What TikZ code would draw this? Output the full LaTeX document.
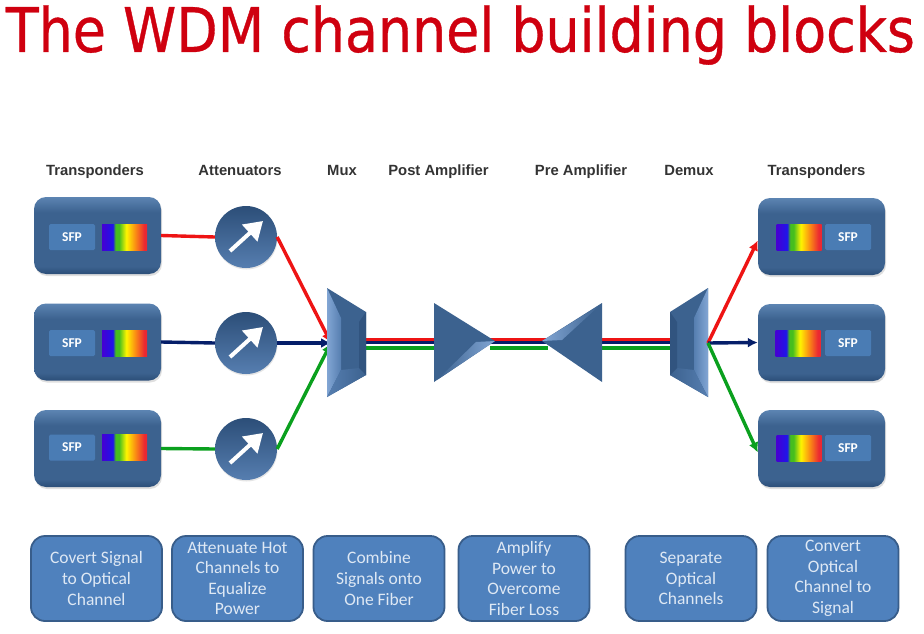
\documentclass[tikz,border=0pt]{standalone}
\usepackage{fontspec}
\setmainfont{Carlito}
\newfontfamily\titlefont[FakeBold=0.6]{DejaVu Sans Condensed}
\newfontfamily\headfont{Liberation Sans}
\usetikzlibrary{arrows.meta}
\usetikzlibrary{shadows}
\definecolor{titlered}{RGB}{207,0,15}
\definecolor{boxblue}{RGB}{60,98,143}
\definecolor{boxlight}{RGB}{92,132,178}
\definecolor{boxdark}{RGB}{44,78,120}
\definecolor{sfpblue}{RGB}{74,124,180}
\definecolor{notefill}{RGB}{79,129,189}
\definecolor{noteline}{RGB}{56,93,138}
\definecolor{notetext}{RGB}{222,232,244}
\definecolor{facetlight}{RGB}{130,166,212}
\definecolor{facetmid}{RGB}{86,126,176}
\definecolor{lightred}{RGB}{238,20,20}
\definecolor{darkblue}{RGB}{5,30,105}
\definecolor{darkgreen}{RGB}{10,160,30}
\definecolor{specviolet}{RGB}{70,0,210}
\definecolor{specblue}{RGB}{30,20,235}
\definecolor{specgreen}{RGB}{70,190,30}
\definecolor{specyellow}{RGB}{255,245,0}
\definecolor{specorange}{RGB}{250,140,20}
\definecolor{specred}{RGB}{235,40,50}
\pgfdeclarehorizontalshading{rainbow}{100bp}{
    color(0bp)=(specviolet); color(25bp)=(specviolet); color(37bp)=(specblue);
    color(40bp)=(specgreen); color(44bp)=(specgreen); color(52bp)=(specyellow); color(62bp)=(specorange);
    color(72bp)=(specred); color(100bp)=(specred)}
\pgfdeclareverticalshading{bevel}{100bp}{
    color(0bp)=(boxdark); color(25bp)=(boxdark); color(30bp)=(boxblue);
    color(65bp)=(boxblue); color(75bp)=(boxlight); color(100bp)=(boxlight)}
\tikzset{
    heading/.style={anchor=base, font=\headfont\bfseries\fontsize{14.8}{16}\selectfont, text=black!80},
    transponder/.style={rectangle, rounded corners=12pt, minimum width=127pt, minimum height=77pt, inner sep=0pt,
        shading=bevel, drop shadow={opacity=0.25, shadow xshift=1pt, shadow yshift=-2pt}},
    sfp/.style={rectangle, fill=sfpblue, rounded corners=1.5pt, minimum width=46pt, minimum height=26pt, inner sep=0pt, text=white,
        font=\bfseries\fontsize{13.5}{15}\selectfont},
    spectrum/.style={rectangle, shading=rainbow, minimum width=45pt, minimum height=26pt, inner sep=0pt},
    attenuator/.style={circle, minimum size=62pt, inner sep=0pt, top color=boxdark, bottom color=facetmid,
        drop shadow={opacity=0.2, shadow xshift=0.5pt, shadow yshift=-1.5pt}},
    dial/.style={white, line width=4pt, -{Triangle[length=18pt, width=22pt]}},
    note/.style={draw=noteline, line width=1.8pt, fill=notefill, rounded corners=14pt, minimum width=131pt, minimum height=85pt,
        inner sep=0pt, align=center, text=notetext, font=\fontsize{17.5}{20.6}\selectfont},
    redline/.style={lightred, line width=3.4pt},
    blueline/.style={darkblue, line width=3.4pt},
    greenline/.style={darkgreen, line width=3.4pt},
    tip/.style={-{Latex[length=10pt, width=10pt]}},
    facet/.style={fill=boxblue}
}
\newcommand{\dialarrow}[1]{\draw[dial] ([shift={(-16,14)}]#1.center) -- ([shift={(17,-16)}]#1.center);}
\begin{document}
\begin{tikzpicture}[x=1pt, y=-1pt]
    \useasboundingbox (0,0) rectangle (924,634);
    \fill[white] (0,0) rectangle (924,634);

    \node[anchor=base, font=\titlefont\fontsize{61.5}{70}\selectfont, text=titlered] (title) at (460.5,52)
        {\scalebox{0.973}[1]{The WDM channel building blocks}};

    \node[heading] (h1) at (95,175) {Transponders};
    \node[heading] (h2) at (240,175) {Attenuators};
    \node[heading] (h3) at (342,175) {Mux};
    \node[heading] (h4) at (438.5,175) {Post Amplifier};
    \node[heading] (h5) at (581,175) {Pre Amplifier};
    \node[heading] (h6) at (689,175) {Demux};
    \node[heading] (h7) at (816.5,175) {Transponders};

    % ports of the wedges
    \coordinate (muxin) at (331,343);
    \coordinate (muxout) at (366,342);
    \coordinate (postin) at (434,342);
    \coordinate (postout) at (490,342);
    \coordinate (prein) at (548,342);
    \coordinate (preout) at (602,342);
    \coordinate (demuxin) at (670,342);
    \coordinate (demuxout) at (708,343);

    % left side
    \node[transponder] (t1) at (97.5,235.5) {};
    \node[transponder] (t2) at (97.5,342) {};
    \node[transponder] (t3) at (97.5,448.5) {};
    \node[sfp] (s1) at (72,237) {SFP};
    \node[sfp] (s2) at (72,343) {SFP};
    \node[sfp] (s3) at (72,447.5) {SFP};
    \node[spectrum] (c1) at (124.5,237) {};
    \node[spectrum] (c2) at (124.5,343) {};
    \node[spectrum] (c3) at (124.5,447.5) {};
    \node[attenuator] (a1) at (246,237) {};
    \node[attenuator] (a2) at (246,343) {};
    \node[attenuator] (a3) at (246,449) {};
    \dialarrow{a1}
    \dialarrow{a2}
    \dialarrow{a3}

    \draw[redline] (t1.east) -- (a1.west);
    \draw[blueline] (t2.east) -- (a2.west);
    \draw[greenline] (t3.east) -- (a3.west);
    \draw[redline, tip] (a1.east) -- (muxin);
    \draw[blueline, tip] (a2.east) -- (muxin);
    \draw[greenline, tip] (a3.east) -- (muxin);

    % trunk
    \foreach \from/\to in {muxout/postin, postout/prein, preout/demuxin} {
        \draw[redline] ([yshift=2.7]\from) -- ([yshift=2.7]\to);
        \draw[blueline] ([yshift=-0.5]\from) -- ([yshift=-0.5]\to);
        \draw[greenline] ([yshift=-6]\from) -- ([yshift=-6]\to);
    }

    % mux
    \fill[facet] (327,288) -- (366,312) -- (366,375) -- (327,397) -- cycle;
    \shade[left color=facetlight, right color=facetmid] (327,288) -- (341,318) -- (341,370) -- (327,397) -- cycle;
    \shade[left color=facetmid, right color=boxblue] (327,397) -- (341,370) -- (359,368) -- (366,375) -- cycle;
    \fill[boxdark!70!boxblue] (359,322) -- (366,312) -- (366,375) -- (359,368) -- cycle;

    % post amplifier
    \fill[facet] (434,303) -- (495,341) -- (434,382) -- cycle;
    \shade[left color=boxblue, right color=facetlight] (437,380) -- (495,341) -- (476,342) -- cycle;

    % pre amplifier
    \fill[facet] (602,303) -- (542,341) -- (602,382) -- cycle;
    \shade[left color=facetlight, right color=boxblue] (542,341) -- (600,305) -- (562,340) -- cycle;

    % demux
    \fill[facet] (708,288) -- (670,312) -- (670,375) -- (708,397) -- cycle;
    \shade[left color=facetmid, right color=facetlight] (708,288) -- (694,318) -- (694,370) -- (708,397) -- cycle;
    \shade[left color=boxblue, right color=facetmid] (708,397) -- (694,370) -- (677,368) -- (670,375) -- cycle;
    \fill[boxdark!70!boxblue] (677,322) -- (670,312) -- (670,375) -- (677,368) -- cycle;

    % right side
    \node[transponder] (r1) at (821.5,236.5) {};
    \node[transponder] (r2) at (821.5,342.5) {};
    \node[transponder] (r3) at (821.5,448.5) {};
    \node[spectrum] (d1) at (799,237) {};
    \node[spectrum] (d2) at (798,343) {};
    \node[spectrum] (d3) at (799,448) {};
    \node[sfp] (u1) at (848,237) {SFP};
    \node[sfp] (u2) at (848,343) {SFP};
    \node[sfp] (u3) at (848,448) {SFP};

    \draw[redline, tip] (demuxout) -- ([yshift=-4]r1.west);
    \draw[blueline, tip] (demuxout) -- (r2.west);
    \draw[greenline, tip] (demuxout) -- ([yshift=-4]r3.west);

    % captions
    \node[note] (n1) at (96.5,578.5) {Covert Signal\\to Optical\\Channel};
    \node[note] (n2) at (237.5,578.5) {Attenuate Hot\\Channels to\\Equalize\\Power};
    \node[note] (n3) at (379,578.5) {Combine\\Signals onto\\One Fiber};
    \node[note] (n4) at (524,578.5) {Amplify\\Power to\\Overcome\\Fiber Loss};
    \node[note] (n5) at (691,578.5) {Separate\\Optical\\Channels};
    \node[note] (n6) at (833,578.5) {Convert\\Optical\\Channel to\\Signal};
\end{tikzpicture}
\end{document}
